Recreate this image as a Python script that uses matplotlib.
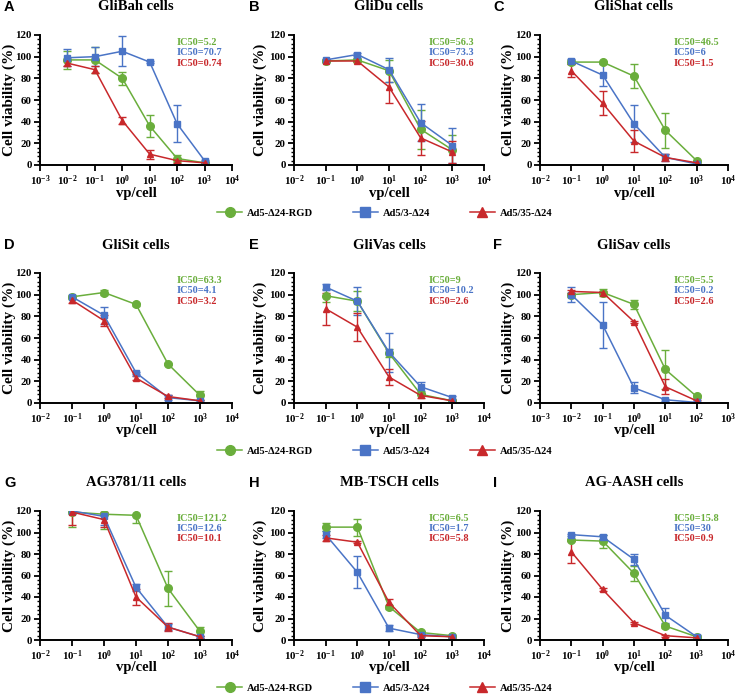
import matplotlib
matplotlib.use("Agg")
import matplotlib.pyplot as plt
from matplotlib.ticker import MultipleLocator, FixedLocator
from matplotlib.lines import Line2D
import numpy as np

plt.rcParams['font.family'] = ['Liberation Serif', 'DejaVu Serif']
plt.rcParams['font.weight'] = 'bold'
plt.rcParams['mathtext.fontset'] = 'custom'
plt.rcParams['mathtext.rm'] = 'Liberation Serif:bold'
plt.rcParams['mathtext.bf'] = 'Liberation Serif:bold'
plt.rcParams['mathtext.it'] = 'Liberation Serif:bold'

GREEN = '#6aae3c'
BLUE = '#4a74c6'
RED = '#c8282b'

virus_names = ['Ad5-Δ24-RGD', 'Ad5/3-Δ24', 'Ad5/35-Δ24']

# panels: letter, title, x doses, x-limits (log10), IC50 labels
letters = ['A', 'B', 'C', 'D', 'E', 'F', 'G', 'H', 'I']
titles = ['GliBah cells', 'GliDu cells', 'GliShat cells',
          'GliSit cells', 'GliVas cells', 'GliSav cells',
          'AG3781/11 cells', 'MB-TSCH cells', 'AG-AASH cells']
x_doses = [
    [1e-2, 1e-1, 1e0, 1e1, 1e2, 1e3],
    [1e-1, 1e0, 1e1, 1e2, 1e3],
    [1e-1, 1e0, 1e1, 1e2, 1e3],
    [1e-1, 1e0, 1e1, 1e2, 1e3],
    [1e-1, 1e0, 1e1, 1e2, 1e3],
    [1e-2, 1e-1, 1e0, 1e1, 1e2],
    [1e-1, 1e0, 1e1, 1e2, 1e3],
    [1e-1, 1e0, 1e1, 1e2, 1e3],
    [1e-1, 1e0, 1e1, 1e2, 1e3],
]
x_dec = [(-3, 4), (-2, 4), (-2, 4), (-2, 4), (-2, 4), (-3, 3), (-2, 4), (-2, 4), (-2, 4)]
ic50 = [
    ['5.2', '70.7', '0.74'],
    ['56.3', '73.3', '30.6'],
    ['46.5', '6', '1.5'],
    ['63.3', '4.1', '3.2'],
    ['9', '10.2', '2.6'],
    ['5.5', '0.2', '2.6'],
    ['121.2', '12.6', '10.1'],
    ['6.5', '1.7', '5.8'],
    ['15.8', '30', '0.9'],
]

# viability (%) and error, per panel: green, blue, red
rgd_mean = [[97, 97, 80, 36, 6, 2], [96, 97, 87, 33, 14], [95, 95, 82, 32, 4],
            [98, 102, 91, 36, 7], [99, 94, 46, 8, 2], [100, 102, 91, 31, 6],
            [119, 117, 116, 48, 8], [105, 105, 31, 7, 4], [93, 92, 62, 13, 3]]
rgd_err = [[8, 12, 6, 10, 3, 1], [1, 2, 10, 18, 14], [2, 1, 11, 16, 1],
           [2, 2, 1, 1, 4], [6, 9, 4, 1, 1], [2, 3, 4, 18, 1],
           [14, 14, 7, 16, 4], [4, 8, 2, 1, 1], [1, 6, 7, 2, 1]]
ad3_mean = [[99, 100, 105, 95, 38, 4], [97, 102, 88, 39, 18], [96, 83, 38, 7, 1],
            [98, 81, 28, 5, 2], [107, 94, 47, 15, 5], [100, 72, 14, 3, 0.5],
            [120, 115, 49, 12, 3], [98, 63, 11, 5, 3], [98, 96, 75, 23, 3]]
ad3_err = [[8, 9, 14, 1, 17, 1], [1, 1, 11, 17, 16], [2, 10, 17, 3, 1],
           [1, 8, 1, 2, 1], [3, 13, 18, 4, 1], [7, 21, 5, 1, 0.5],
           [3, 8, 3, 3, 1], [3, 15, 3, 1, 1], [1, 2, 5, 7, 2]]
ad35_mean = [[94, 88, 41, 10, 4, 2], [96, 96, 72, 25, 12], [87, 57, 22, 7, 2],
             [95, 76, 23, 6, 2], [87, 70, 24, 7, 2], [103, 102, 75, 15, 2],
             [119, 112, 40, 12, 3], [95, 91, 35, 4, 3], [82, 47, 16, 4, 2]]
ad35_err = [[3, 3, 3, 4, 2, 1], [1, 1, 15, 16, 10], [6, 11, 10, 3, 1],
            [3, 5, 2, 1, 1], [15, 13, 7, 2, 1], [1, 1, 1, 7, 1],
            [12, 7, 7, 4, 1], [3, 1, 3, 1, 1], [10, 1, 1, 1, 1]]

W, H = 738, 698
fig = plt.figure(figsize=(W / 100, H / 100), dpi=100)

col_lr = [(40, 232), (294, 484), (540, 728)]
row_tb = [(35, 165), (273, 403), (511, 640)]
letter_x = [4, 249, 493]
ylab_off = [-31, -34, -32]   # px left of the axis

def px_axes(l, t, r, b):
    return fig.add_axes([l / W, 1 - b / H, (r - l) / W, (b - t) / H])

series = [(rgd_mean, rgd_err, GREEN, 'o', 5.5),
          (ad3_mean, ad3_err, BLUE, 's', 5),
          (ad35_mean, ad35_err, RED, '^', 5)]

for i in range(9):
    r, c = divmod(i, 3)
    l, rr = col_lr[c]
    t, b = row_tb[r]
    ax = px_axes(l, t, rr, b)
    x = np.array(x_doses[i])
    for (mean, err, col, mk, ms) in series:
        ax.errorbar(x, mean[i], yerr=err[i], color=col, marker=mk, ms=ms,
                    lw=1.1, elinewidth=1, capsize=3, capthick=1)
    lo, hi = x_dec[i]
    ax.set_xscale('log')
    ax.set_xlim(10.0 ** lo, 10.0 ** hi)
    ax.xaxis.set_major_locator(FixedLocator([10.0 ** k for k in range(lo, hi + 1)]))
    ax.xaxis.set_minor_locator(FixedLocator([]))
    ax.set_xticklabels(['$10^{%d}$' % k for k in range(lo, hi + 1)])
    ax.set_ylim(0, 120)
    ax.yaxis.set_major_locator(MultipleLocator(20))
    ax.yaxis.set_minor_locator(MultipleLocator(4))
    for s in ['top', 'right']:
        ax.spines[s].set_visible(False)
    for s in ['left', 'bottom']:
        ax.spines[s].set_linewidth(1.4)
    ax.tick_params(axis='both', which='major', length=4, width=1.3, labelsize=7.8, pad=2)
    ax.tick_params(axis='y', which='minor', length=2, width=1)
    ax.set_ylabel('Cell viability (%)', fontsize=11, fontweight='bold', va='center')
    ax.yaxis.set_label_coords(ylab_off[c] / (rr - l), 0.5)
    ax.set_xlabel('vp/cell', fontsize=10.5, fontweight='bold', va='center')
    ax.xaxis.set_label_coords(0.5, -28 / (b - t))
    for j, col in enumerate([GREEN, BLUE, RED]):
        ax.text(0.71, 0.94 - 0.078 * j, 'IC50=' + ic50[i][j], color=col,
                transform=ax.transAxes, fontsize=7.4, fontweight='bold', va='center')
    cx = (l + rr) / 2
    fig.text(cx / W, 1 - (t - 28) / H, titles[i], ha='center', va='center',
             fontsize=10.5, fontweight='bold')
    fig.text(letter_x[c] / W, 1 - (t - 28) / H, letters[i], ha='left', va='center',
             fontsize=10.5, fontweight='bold', family='Liberation Sans')

handles = [Line2D([], [], color=GREEN, marker='o', ms=7, lw=1.1),
           Line2D([], [], color=BLUE, marker='s', ms=6.5, lw=1.1),
           Line2D([], [], color=RED, marker='^', ms=7, lw=1.1)]
for t, b in row_tb:
    fig.legend(handles, virus_names, loc='center', ncol=3, frameon=False,
               bbox_to_anchor=(385 / W, 1 - (b + 48) / H), fontsize=7.6,
               handlelength=2.3, columnspacing=3.8, handletextpad=0.5,
               borderpad=0.1)

fig.savefig('out.png', dpi=100)
